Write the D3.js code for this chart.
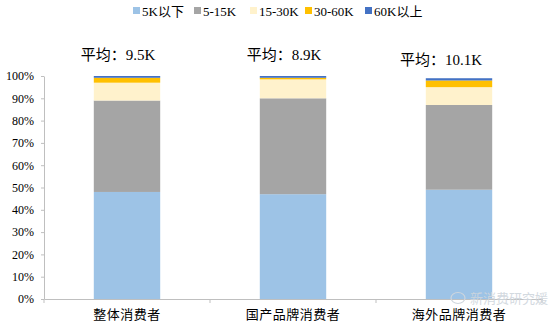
<!DOCTYPE html>
<html><head><meta charset="utf-8">
<script src="https://cdn.jsdelivr.net/npm/d3@7"></script>
<style>body{margin:0;background:#fff}svg{display:block}</style>
</head><body><svg id="c" width="550" height="328"></svg>
<script>
const categories = ["整体消费者", "国产品牌消费者", "海外品牌消费者"];
const seriesNames = ["5K以下", "5-15K", "15-30K", "30-60K", "60K以上"];
const s_lt5k = [48, 47, 49];
const s_5_15k = [41, 43, 38];
const s_15_30k = [8, 8.5, 8];
const s_30_60k = [2.2, 0.7, 3];
const s_gt60k = [0.8, 0.8, 1];
const averages = ["平均：9.5K", "平均：8.9K", "平均：10.1K"];
const yTicks = [0, 10, 20, 30, 40, 50, 60, 70, 80, 90, 100];
const colors = ["#9DC3E6", "#A5A5A5", "#FFF2CC", "#FFC000", "#4472C4"];

const svg = d3.select("#c");
const font = "'Liberation Serif','Times New Roman','Noto Sans CJK SC',serif";
const m = {l: 44, r: 8, t: 76, b: 29};
const W = 550, H = 328;
const x = d3.scaleBand().domain(categories).range([m.l, W - m.r]).paddingInner(0).paddingOuter(0);
const y = d3.scaleLinear().domain([0, 100]).range([H - m.b, m.t]);

const table = categories.map((c, i) => ({cat: c, "5K以下": s_lt5k[i], "5-15K": s_5_15k[i], "15-30K": s_15_30k[i], "30-60K": s_30_60k[i], "60K以上": s_gt60k[i]}));
const stacked = d3.stack().keys(seriesNames)(table);
const bw = x.bandwidth() * 0.4;

stacked.forEach((layer, k) => {
  svg.append("g").selectAll("rect").data(layer).join("rect")
    .attr("x", d => x(d.data.cat) + (x.bandwidth() - bw) / 2)
    .attr("width", bw)
    .attr("y", d => y(d[1]))
    .attr("height", d => y(d[0]) - y(d[1]))
    .attr("fill", colors[k]);
});

// Y axis
const ya = svg.append("g").attr("transform", `translate(${m.l},0)`)
  .call(d3.axisLeft(y).tickValues(yTicks).tickFormat(d => d + "%").tickSize(3).tickSizeOuter(0));
ya.select(".domain").attr("stroke", "#BFBFBF");
ya.selectAll(".tick line").attr("stroke", "#BFBFBF");
ya.selectAll("text").attr("font-family", font).attr("font-size", 12).attr("fill", "#000").attr("x", -10);

// X axis
const xa = svg.append("g").attr("transform", `translate(0,${H - m.b})`)
  .call(d3.axisBottom(x).tickSize(0).tickSizeOuter(0));
xa.select(".domain").attr("stroke", "#BFBFBF");
xa.selectAll("text").attr("font-family", font).attr("font-size", 13).attr("fill", "#000").attr("dy", "1.3em").attr("letter-spacing", "0.5px");
const bounds = categories.map(c => x(c)).concat([x.range()[1]]);
svg.append("g").selectAll("line").data(bounds).join("line")
  .attr("x1", d => d).attr("x2", d => d)
  .attr("y1", H - m.b).attr("y2", H - m.b + 4)
  .attr("stroke", "#BFBFBF");

// average labels
const avgY = [55, 55, 60];
svg.append("g").selectAll("text").data(categories).join("text")
  .attr("x", (d, i) => x(d) + x.bandwidth() / 2 - 9 - (i === 2 ? 9 : 0))
  .attr("y", (d, i) => avgY[i] + 5)
  .attr("text-anchor", "middle")
  .attr("font-family", font).attr("font-size", 15).attr("fill", "#000")
  .text((d, i) => averages[i]);

// legend
const legX = [133, 194, 250, 305, 365];
const leg = svg.append("g");
seriesNames.forEach((n, i) => {
  leg.append("rect").attr("x", legX[i]).attr("y", 7).attr("width", 7).attr("height", 7).attr("fill", colors[i]);
  leg.append("text").attr("x", legX[i] + 9).attr("y", 15.5)
    .attr("font-family", font).attr("font-size", 13).attr("fill", "#000").text(n);
});

// watermark
svg.append("text").attr("x", 470).attr("y", 303).attr("font-family", "'Noto Sans CJK SC',sans-serif")
  .attr("font-size", 13).attr("fill", "#cfd6dd").attr("opacity", 0.9).text("新消费研究媛");
svg.append("ellipse").attr("cx", 458).attr("cy", 298).attr("rx", 7).attr("ry", 5.5)
  .attr("fill", "none").attr("stroke", "#cfd6dd").attr("stroke-width", 1.2);
</script></body></html>
